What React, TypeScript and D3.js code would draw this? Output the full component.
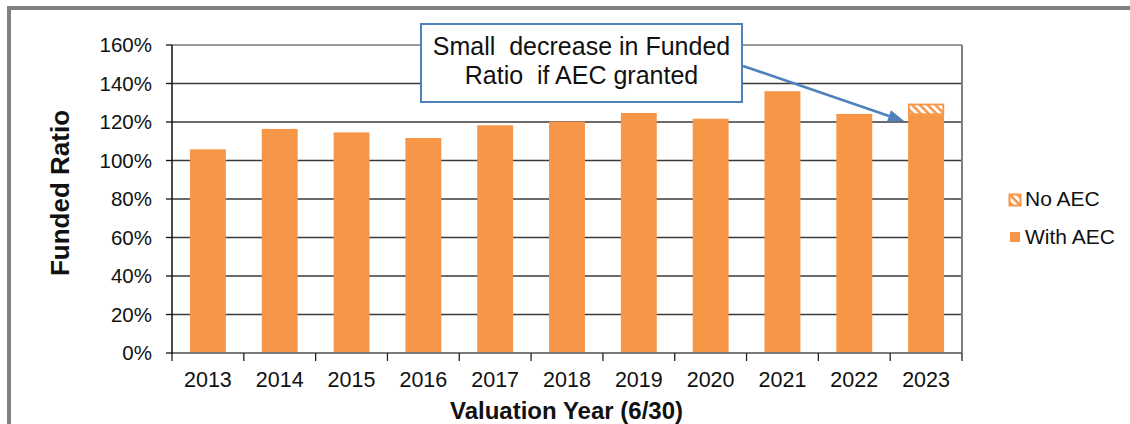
import React from 'react';
import * as d3 from 'd3';

const years = ['2013', '2014', '2015', '2016', '2017', '2018', '2019', '2020', '2021', '2022', '2023'];
const withAEC = [1.058, 1.164, 1.146, 1.117, 1.183, 1.202, 1.247, 1.217, 1.36, 1.242, 1.236];
const noAECExtra = [0, 0, 0, 0, 0, 0, 0, 0, 0, 0, 0.059];
const yTicks = [0, 0.2, 0.4, 0.6, 0.8, 1.0, 1.2, 1.4, 1.6];
const legendItems = ['No AEC', 'With AEC'];
const annotationLines = ['Small  decrease in Funded', 'Ratio  if AEC granted'];

const ORANGE = '#f79646';
const BLUE = '#4f81bd';
const FONT = '"Liberation Sans", Arial, sans-serif';

export default function App() {
  const W = 1130;
  const H = 424;
  const left = 172, right = 962, top = 45, bottom = 353;

  const x = d3.scaleBand<string>().domain(years).range([left, right]).paddingInner(0.5).paddingOuter(0.25);
  const y = d3.scaleLinear().domain([0, 1.6]).range([bottom, top]);
  const fmt = d3.format('.0%');

  const boundaries = d3.range(years.length + 1).map((i) => left + i * (right - left) / years.length);

  // arrow geometry
  const ax1 = 743, ay1 = 66;
  const tipIdx = years.length - 1;
  const ax2 = (x(years[tipIdx]) as number) - 4;
  const ay2 = y(withAEC[tipIdx]) + 6;
  const ang = Math.atan2(ay2 - ay1, ax2 - ax1);
  const headL = 16, headW = 6;
  const bx = ax2 - headL * Math.cos(ang), by = ay2 - headL * Math.sin(ang);
  const head = [
    [ax2, ay2],
    [bx + headW * Math.sin(ang), by - headW * Math.cos(ang)],
    [bx - headW * Math.sin(ang), by + headW * Math.cos(ang)],
  ];

  return (
    <svg width={W} height={H} style={{ position: 'absolute', left: 0, top: 0, display: 'block' }} fontFamily={FONT}>
      <defs>
        <pattern id="hatch" width="5.5" height="5.5" patternUnits="userSpaceOnUse" patternTransform="rotate(-45)">
          <rect width="5.5" height="5.5" fill={ORANGE} />
          <rect x="0" y="0" width="3" height="5.5" fill="#ffffff" />
        </pattern>
      </defs>
      <rect x={0} y={0} width={W} height={H} fill="#fff" />
      {/* outer frame */}
      <rect x={9} y={8} width={W + 20} height={H + 20} fill="none" stroke="#808080" strokeWidth={4} />

      {/* gridlines */}
      {yTicks.slice(1, -1).map((t) => (
        <line key={t} x1={left} x2={right} y1={y(t)} y2={y(t)} stroke="#3a3a3a" strokeWidth={1.3} />
      ))}
      {/* plot border */}
      <line x1={left} x2={right} y1={y(1.6)} y2={y(1.6)} stroke="#7a7a7a" strokeWidth={1.5} />
      <line x1={right} x2={right} y1={top} y2={bottom} stroke="#808080" strokeWidth={2} />

      {/* bars */}
      {years.map((yr, i) => (
        <rect key={yr} x={x(yr)} y={y(withAEC[i])} width={x.bandwidth()} height={bottom - y(withAEC[i])} fill={ORANGE} />
      ))}
      {years.map((yr, i) =>
        noAECExtra[i] > 0 ? (
          <rect
            key={'h' + yr}
            x={(x(yr) as number) + 0.75}
            y={y(withAEC[i] + noAECExtra[i]) + 0.75}
            width={x.bandwidth() - 1.5}
            height={y(withAEC[i]) - y(withAEC[i] + noAECExtra[i]) - 1.5}
            fill="url(#hatch)"
            stroke={ORANGE}
            strokeWidth={1.8}
          />
        ) : null
      )}

      {/* axes */}
      <line x1={left} x2={right} y1={bottom} y2={bottom} stroke="#7a7a7a" strokeWidth={2} />
      <line x1={left} x2={left} y1={top} y2={bottom + 1} stroke="#111" strokeWidth={1.5} />
      {yTicks.map((t) => (
        <g key={'yt' + t}>
          <line x1={left - 6} x2={left} y1={y(t)} y2={y(t)} stroke="#111" strokeWidth={1.3} />
          <text x={152} y={y(t)} dy="0.35em" textAnchor="end" fontSize={20.5} fill="#111">
            {fmt(t)}
          </text>
        </g>
      ))}
      {boundaries.map((b, i) => (
        <line key={'xt' + i} x1={b} x2={b} y1={bottom} y2={bottom + 8} stroke="#222" strokeWidth={1.3} />
      ))}
      {years.map((yr) => (
        <text key={'xl' + yr} x={(x(yr) as number) + x.bandwidth() / 2} y={387} textAnchor="middle" fontSize={21.5} fill="#111">
          {yr}
        </text>
      ))}

      {/* axis titles */}
      <text x={(left + right) / 2 - 0.5} y={419} textAnchor="middle" fontSize={24} fontWeight="bold" fill="#111">
        Valuation Year (6/30)
      </text>
      <text transform={`translate(69, ${(top + bottom) / 2 - 6}) rotate(-90)`} textAnchor="middle" fontSize={26} fontWeight="bold" fill="#111">
        Funded Ratio
      </text>

      {/* legend */}
      <rect x={1009.5} y={194.5} width={11} height={11} fill="url(#hatch)" stroke={ORANGE} strokeWidth={2} />
      <text x={1025} y={205.5} fontSize={21} fill="#111">{legendItems[0]}</text>
      <rect x={1010} y={232} width={10} height={10} fill={ORANGE} />
      <text x={1025} y={243.5} fontSize={21} fill="#111">{legendItems[1]}</text>

      {/* annotation */}
      <line x1={ax1} y1={ay1} x2={bx} y2={by} stroke={BLUE} strokeWidth={2.6} />
      <polygon points={head.map((p) => p.join(',')).join(' ')} fill={BLUE} />
      <rect x={421} y={24} width={321} height={78} fill="#fff" stroke={BLUE} strokeWidth={2} />
      {annotationLines.map((l, i) => (
        <text key={l} x={581.5} y={55 + i * 29} textAnchor="middle" fontSize={25} fill="#111" style={{ whiteSpace: 'pre' }}>
          {l}
        </text>
      ))}
    </svg>
  );
}
